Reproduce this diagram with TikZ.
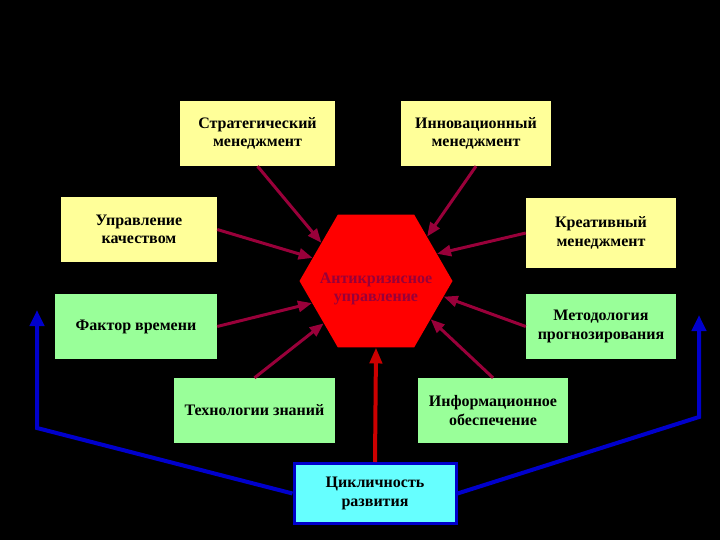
\documentclass[tikz,border=0pt]{standalone}
\usepackage{fontspec}
\setmainfont{Liberation Serif}
\usetikzlibrary{shapes.geometric,arrows.meta}
\definecolor{paleyellow}{HTML}{FFFF99}
\definecolor{palegreen}{HTML}{99FF99}
\definecolor{palecyan}{HTML}{66FFFF}
\definecolor{wine}{HTML}{99003A}
\definecolor{hexred}{HTML}{FF0000}
\definecolor{deepblue}{HTML}{0000CC}
\definecolor{darkred}{HTML}{CC0000}
\begin{document}
\begin{tikzpicture}[x=1pt, y=-1pt,
		box/.style={rectangle, minimum height=65pt, inner sep=2pt, align=center,
			font=\bfseries\fontsize{16}{18.5}\selectfont},
		yelbox/.style={box, fill=paleyellow},
		grnbox/.style={box, fill=palegreen},
		inarrow/.style={wine, line width=3pt, -{Triangle[length=14pt, width=11pt]}},
		loop/.style={deepblue, line width=4pt, line join=miter, -{Triangle[length=16pt, width=14pt]}}]
	\fill[black] (0, 0) rectangle (720, 540);
	\useasboundingbox (0, 0) rectangle (720, 540);
	% centre
	\node[regular polygon, regular polygon sides=6, minimum size=153pt, inner sep=0pt,
		fill=hexred] (hex) at (376, 281) {};
	\node[text=wine, align=center, font=\bfseries\fontsize{16}{18.5}\selectfont]
		(hexlabel) at (376, 289) {Антикризисное\\управление};
	% factors
	\node[yelbox, minimum width=155pt] (strat) at (257.5, 133.5) {Стратегический\\менеджмент};
	\node[yelbox, minimum width=150pt] (innov) at (476, 133.5) {Инновационный\\менеджмент};
	\node[yelbox, minimum width=156pt] (qual) at (139, 229.5) {Управление\\качеством};
	\node[yelbox, minimum width=150pt, minimum height=70pt] (creat) at (601, 233) {Креативный\\менеджмент};
	\node[grnbox, minimum width=162pt] (time) at (136, 326.5) {Фактор времени};
	\node[grnbox, minimum width=150pt] (method) at (601, 326.5) {Методология\\прогнозирования};
	\node[grnbox, minimum width=161pt] (know) at (254.5, 410.5) {Технологии знаний};
	\node[grnbox, minimum width=150pt] (info) at (493, 410.5) {Информационное\\обеспечение};
	\node[box, fill=palecyan, draw=deepblue, line width=3pt, minimum width=162pt, minimum height=60pt]
		(cycle) at (375, 493.5) {Цикличность\\развития};
	\foreach \a/\b in {strat.south/145, innov.south/41, qual.east/160, creat.west/24,
			time.east/199, method.west/-13, know.north/219, info.north/-35}
		\draw[inarrow] (\a) -- (hex.\b);
	\draw[darkred, line width=4pt, -{Triangle[length=16pt, width=12pt]}] (cycle.north) -- (hex.south);
	% cycle feedback
	\coordinate (lbend) at (37, 428);
	\coordinate (ltip) at (37, 310);
	\coordinate (rbend) at (699, 417);
	\coordinate (rtip) at (699, 315);
	\draw[loop] (cycle.west) -- (lbend) -- (ltip);
	\draw[loop] (cycle.east) -- (rbend) -- (rtip);
\end{tikzpicture}
\end{document}
